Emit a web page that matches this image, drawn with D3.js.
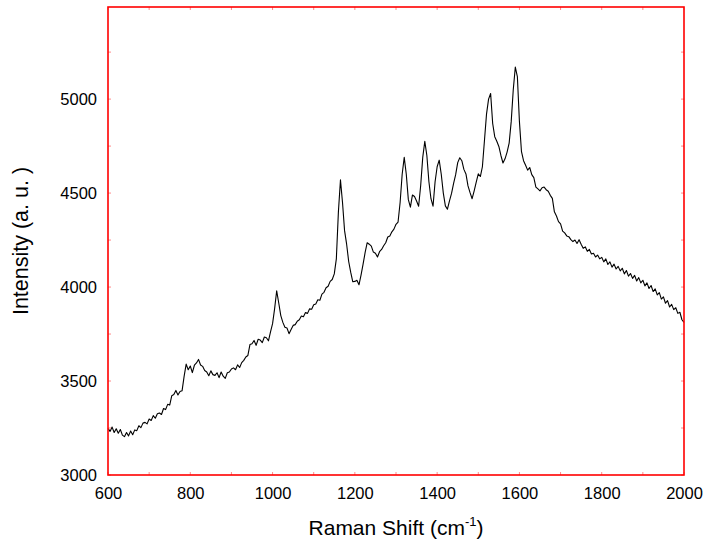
<!DOCTYPE html>
<html><head><meta charset="utf-8">
<script src="https://cdn.jsdelivr.net/npm/d3@7"></script>
<style>body{margin:0;background:#fff}svg{display:block}text{font-family:"Liberation Sans",Arial,sans-serif;fill:#000}</style>
</head><body>
<script>
const xTicks = [600, 800, 1000, 1200, 1400, 1600, 1800, 2000];
const xMinorTicks = [700, 900, 1100, 1300, 1500, 1700, 1900];
const yTicks = [3000, 3500, 4000, 4500, 5000];
const yMinorTicks = [3250, 3750, 4250, 4750, 5250];
const xTitle = "Raman Shift (cm";
const xTitleSup = "-1";
const yTitle = "Intensity (a. u. )";
// [Raman shift (cm-1), intensity]
const spectrum = [
[600,3248],[605,3232],[610,3255],[615,3226],[620,3246],[625,3222],[630,3242],[635,3212],[640,3204],[645,3226],
[650,3208],[655,3234],[660,3214],[665,3240],[670,3236],[675,3262],[680,3252],[685,3276],[690,3280],[695,3272],
[700,3298],[705,3290],[710,3316],[715,3302],[720,3326],[725,3330],[730,3322],[735,3354],[740,3348],[745,3376],
[750,3372],[755,3422],[760,3428],[765,3450],[770,3426],[775,3444],[780,3448],[785,3525],[790,3590],[795,3560],
[800,3580],[805,3545],[810,3584],[815,3596],[820,3615],[825,3585],[830,3578],[835,3556],[840,3548],[845,3528],
[850,3554],[855,3534],[860,3530],[865,3544],[870,3518],[875,3548],[880,3526],[885,3514],[890,3544],[895,3548],
[900,3564],[905,3570],[910,3560],[915,3586],[920,3572],[925,3598],[930,3610],[935,3628],[940,3636],[945,3694],
[950,3698],[955,3716],[960,3690],[965,3722],[970,3718],[975,3704],[980,3734],[985,3730],[990,3714],[995,3762],
[1000,3805],[1005,3885],[1010,3980],[1015,3915],[1020,3848],[1025,3812],[1030,3786],[1035,3782],[1040,3752],[1045,3774],
[1050,3796],[1055,3800],[1060,3818],[1065,3826],[1070,3846],[1075,3842],[1080,3864],[1085,3860],[1090,3884],[1095,3882],
[1100,3906],[1105,3910],[1110,3932],[1115,3930],[1120,3962],[1125,3972],[1130,3996],[1135,4004],[1140,4030],[1145,4040],
[1150,4070],[1155,4150],[1160,4400],[1165,4570],[1170,4450],[1175,4300],[1180,4228],[1185,4136],[1190,4078],[1195,4028],
[1200,4030],[1205,4036],[1210,4012],[1215,4064],[1220,4122],[1225,4184],[1230,4236],[1235,4228],[1240,4218],[1245,4186],
[1250,4180],[1255,4160],[1260,4188],[1265,4200],[1270,4220],[1275,4236],[1280,4266],[1285,4272],[1290,4294],[1295,4308],
[1300,4334],[1305,4346],[1310,4450],[1315,4600],[1320,4690],[1325,4600],[1330,4465],[1335,4425],[1340,4490],[1345,4482],
[1350,4458],[1355,4430],[1360,4540],[1365,4690],[1370,4775],[1375,4700],[1380,4560],[1385,4470],[1390,4430],[1395,4560],
[1400,4640],[1405,4675],[1410,4600],[1415,4500],[1420,4432],[1425,4414],[1430,4458],[1435,4498],[1440,4552],[1445,4598],
[1450,4662],[1455,4688],[1460,4672],[1465,4626],[1470,4602],[1475,4538],[1480,4502],[1485,4470],[1490,4512],[1495,4558],
[1500,4602],[1505,4588],[1510,4640],[1515,4780],[1520,4920],[1525,5000],[1530,5030],[1535,4870],[1540,4800],[1545,4776],
[1550,4748],[1555,4700],[1560,4660],[1565,4682],[1570,4718],[1575,4766],[1580,4880],[1585,5050],[1590,5170],[1595,5120],
[1600,4880],[1605,4720],[1610,4672],[1615,4648],[1620,4622],[1625,4636],[1630,4598],[1635,4582],[1640,4532],[1645,4522],
[1650,4512],[1655,4528],[1660,4532],[1665,4518],[1670,4510],[1675,4488],[1680,4472],[1685,4400],[1690,4378],[1695,4348],
[1700,4336],[1705,4298],[1710,4288],[1715,4272],[1720,4268],[1725,4252],[1730,4242],[1735,4250],[1740,4232],[1745,4252],
[1750,4228],[1755,4206],[1760,4214],[1765,4190],[1770,4200],[1775,4176],[1780,4180],[1785,4160],[1790,4170],[1795,4150],
[1800,4158],[1805,4134],[1810,4150],[1815,4120],[1820,4134],[1825,4106],[1830,4122],[1835,4096],[1840,4110],[1845,4086],
[1850,4100],[1855,4070],[1860,4088],[1865,4058],[1870,4072],[1875,4046],[1880,4062],[1885,4032],[1890,4050],[1895,4022],
[1900,4036],[1905,4006],[1910,4022],[1915,3992],[1920,4008],[1925,3976],[1930,3990],[1935,3958],[1940,3970],[1945,3936],
[1950,3948],[1955,3914],[1960,3928],[1965,3894],[1970,3908],[1975,3880],[1980,3890],[1985,3860],[1990,3866],[1995,3826],
[2000,3812]
];

const W = 704, H = 543;
const L = 108, R = 684, T = 7, B = 475;
const svg = d3.select("body").append("svg").attr("width", W).attr("height", H);

const x = d3.scaleLinear().domain([600, 2000]).range([L, R]);
const y = d3.scaleLinear().domain([3000, 5490]).range([B, T]);

// curve
const line = d3.line().x(d => x(d[0])).y(d => y(d[1]));
svg.append("path").datum(spectrum).attr("d", line)
  .attr("fill", "none").attr("stroke", "#000").attr("stroke-width", 1.1).attr("stroke-linejoin", "round");

// axes (labels only, inward minor ticks)
const xAxis = d3.axisBottom(x).tickValues(xTicks).tickSize(0).tickPadding(12).tickFormat(d3.format("d"));
const gx = svg.append("g").attr("transform", `translate(0,${B})`).call(xAxis);
gx.select(".domain").remove();
gx.selectAll("text").attr("font-size", 16.5).attr("font-family", "Liberation Sans, Arial, sans-serif").attr("fill", "#000");

const yAxis = d3.axisLeft(y).tickValues(yTicks).tickSize(0).tickPadding(11).tickFormat(d3.format("d"));
const gy = svg.append("g").attr("transform", `translate(${L},0)`).call(yAxis);
gy.select(".domain").remove();
gy.selectAll("text").attr("font-size", 16.5).attr("font-family", "Liberation Sans, Arial, sans-serif").attr("fill", "#000");

// tick marks inside frame
const tickCol = "#ff8a8a";
svg.append("g").selectAll("line").data(xTicks.concat(xMinorTicks)).join("line")
  .attr("x1", d => x(d)).attr("x2", d => x(d)).attr("y1", B).attr("y2", B - 3)
  .attr("stroke", tickCol).attr("stroke-width", 1);
svg.append("g").selectAll("line").data(xTicks.concat(xMinorTicks)).join("line")
  .attr("x1", d => x(d)).attr("x2", d => x(d)).attr("y1", T).attr("y2", T + 3)
  .attr("stroke", tickCol).attr("stroke-width", 1);
svg.append("g").selectAll("line").data(yTicks.concat(yMinorTicks)).join("line")
  .attr("x1", L).attr("x2", L + 3).attr("y1", d => y(d)).attr("y2", d => y(d))
  .attr("stroke", tickCol).attr("stroke-width", 1);
svg.append("g").selectAll("line").data(yTicks.concat(yMinorTicks)).join("line")
  .attr("x1", R).attr("x2", R - 3).attr("y1", d => y(d)).attr("y2", d => y(d))
  .attr("stroke", tickCol).attr("stroke-width", 1);

// frame
svg.append("rect").attr("x", L).attr("y", T).attr("width", R - L).attr("height", B - T)
  .attr("fill", "none").attr("stroke", "#ff0000").attr("stroke-width", 1.6);

// titles
const xt = svg.append("text").attr("x", (L + R) / 2).attr("y", 535).attr("text-anchor", "middle")
  .attr("font-size", 21);
xt.append("tspan").text(xTitle);
xt.append("tspan").text(xTitleSup).attr("font-size", 13).attr("dy", -9);
xt.append("tspan").text(")").attr("dy", 9);

svg.append("text").attr("transform", `translate(28,${(T + B) / 2}) rotate(-90)`)
  .attr("text-anchor", "middle").attr("font-size", 21.5).text(yTitle);
</script>
</body></html>
